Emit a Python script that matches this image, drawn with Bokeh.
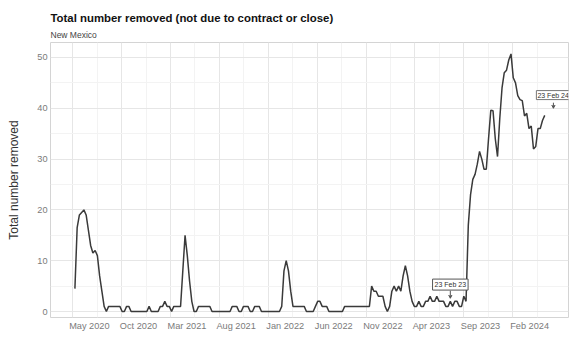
import pandas as pd
from bokeh.plotting import figure
from bokeh.models import (ColumnDataSource, FixedTicker, Title, Label, Arrow,
                          VeeHead, Range1d)
from bokeh.embed import file_html
from bokeh.resources import INLINE

# ---------------- data ----------------
start_date = "2020-05-08"
values = [
    4.5, 16.5, 19, 19.5, 20, 19, 16, 13, 11.5, 12, 11, 7, 4, 1,          # 0-13
    0, 1, 1, 1, 1, 1, 1, 0, 0, 1, 1,                                     # 14-24
    0, 0, 0, 0, 0, 0, 0, 0, 1, 0, 0, 0, 0,                               # 25-37
    1, 1, 2, 1, 1, 0, 1, 1, 1, 1,                                        # 38-47
    8, 15, 11, 6, 2, 0, 0,                                               # 48-54
    1, 1, 1, 1, 1, 1,                                                    # 55-60
    0, 0, 0, 0, 0, 0, 0, 0, 0,                                           # 61-69
    1, 1, 1, 0, 0, 1, 1, 1, 0, 0, 1, 1, 1,                               # 70-82
    0, 0, 0, 0, 0, 0, 0, 0, 0,                                           # 83-91
    1, 8, 10, 8, 4, 1, 1, 1, 1, 1, 1,                                    # 92-102
    0, 0, 0, 0, 1, 2, 2, 1, 1, 1,                                        # 103-112
    0, 0, 0, 0, 0, 0, 0,                                                 # 113-119
    1, 1, 1, 1, 1, 1, 1, 1, 1, 1, 1, 1,                                  # 120-131
    5, 4, 4, 3, 3, 3, 1, 0, 1, 4, 5, 4, 5, 4, 7, 9, 7, 4, 2,             # 132-150
    1, 1, 2, 1, 1, 2, 2, 3, 2, 2, 3, 2, 2, 2, 1, 1, 2, 1, 2, 2, 1, 1, 3, 2,  # 151-174
    17, 23, 26, 27, 29, 31.5, 30, 28, 28, 34, 39.6, 39.5, 34, 30.5, 38,  # 175-189
    44, 47, 47.5, 49.5, 50.7, 46, 45, 42.5, 41.7, 41.5, 38.5, 39, 36,    # 190-202
    36.5, 32, 32.5, 36, 36, 37.6, 38.6,                                  # 203-209
]
tick_dates = ["2020-05-01", "2020-10-01", "2021-03-01", "2021-08-01",
              "2022-01-01", "2022-06-01", "2022-11-01", "2023-04-01",
              "2023-09-01", "2024-02-01"]
tick_labels = ["May 2020", "Oct 2020", "Mar 2021", "Aug 2021", "Jan 2022",
               "Jun 2022", "Nov 2022", "Apr 2023", "Sep 2023", "Feb 2024"]
y_ticks = [0, 10, 20, 30, 40, 50]
ann_texts = ["23 Feb 23", "23 Feb 24"]

FONT = "Liberation Sans"

# ---------------- build ----------------
dates = pd.date_range(start_date, periods=len(values), freq="7D")
src = ColumnDataSource(dict(date=dates, n=values))

DAY = 86400000
def ms(d):
    return int(pd.Timestamp(d).value // 10**6)

grid_ticks = [ms(d) for d in tick_dates]
half = (grid_ticks[1] - grid_ticks[0]) // 2
grid_minor = [grid_ticks[0] - half] + \
             [(a + b) // 2 for a, b in zip(grid_ticks[:-1], grid_ticks[1:])] + \
             [grid_ticks[-1] + half]
label_shift = 52 * DAY   # labels sit left-aligned on their tick
label_ticks = [t + label_shift for t in grid_ticks]

p = figure(width=572, height=339, x_axis_type="datetime",
           output_backend="svg", toolbar_location=None,
           x_range=Range1d(ms("2020-02-22"), ms("2024-07-23")),
           y_range=Range1d(-1.18, 52.95),
           min_border_left=50, min_border_right=4,
           min_border_top=42, min_border_bottom=22)

p.background_fill_color = "white"
p.border_fill_color = "white"
p.outline_line_color = "#d4d4d4"

p.add_layout(Title(text="New Mexico", text_font=FONT,
                   text_font_size="8.5px", text_font_style="normal",
                   text_color="#444444", standoff=6), "above")
p.add_layout(Title(text="Total number removed (not due to contract or close)",
                   text_font=FONT, text_font_size="11.4px",
                   text_font_style="bold", text_color="#111111",
                   standoff=2), "above")

# x axis
p.xaxis.ticker = FixedTicker(ticks=label_ticks)
p.xaxis.major_label_overrides = {t: lab for t, lab in zip(label_ticks, tick_labels)}
p.xgrid.ticker = FixedTicker(ticks=grid_ticks, minor_ticks=grid_minor)
# y axis
p.yaxis.ticker = FixedTicker(ticks=y_ticks,
                             minor_ticks=[v + 5 for v in y_ticks[:-1]])
p.yaxis.axis_label = "Total number removed"
p.yaxis.axis_label_text_font = FONT
p.yaxis.axis_label_text_font_size = "12px"
p.yaxis.axis_label_text_font_style = "normal"
p.yaxis.axis_label_text_color = "#333333"
p.yaxis.axis_label_standoff = 13

for ax in (p.xaxis[0], p.yaxis[0]):
    ax.axis_line_color = None
    ax.major_tick_line_color = None
    ax.minor_tick_line_color = None
    ax.major_tick_out = 0
    ax.major_tick_in = 0
    ax.minor_tick_out = 0
    ax.minor_tick_in = 0
    ax.major_label_text_font = FONT
    ax.major_label_text_font_size = "9.2px"
    ax.major_label_text_color = "#7a7a7a"
    ax.major_label_standoff = 3

for g in (p.xgrid[0], p.ygrid[0]):
    g.grid_line_color = "#e6e6e6"
    g.grid_line_width = 1
    g.minor_grid_line_color = "#f3f3f3"
    g.minor_grid_line_width = 1

p.line("date", "n", source=src, line_color="#3a3a3a", line_width=1.5)

# annotations
i1 = 167
a1x = dates[i1]
p.add_layout(Label(x=a1x, y=5.3, text=ann_texts[0], text_font=FONT,
                   text_font_size="7px", text_align="center",
                   text_baseline="middle", text_color="#333333",
                   border_line_color="#555555", border_line_width=1,
                   background_fill_color="white", padding=2))
p.add_layout(Arrow(end=VeeHead(size=3, line_color="#555555", line_width=1),
                   x_start=a1x, y_start=4.1, x_end=a1x, y_end=values[i1] + 0.6,
                   line_color="#555555", line_width=1))

a2x = pd.Timestamp("2024-04-14")
a2ax = pd.Timestamp("2024-06-06")
p.add_layout(Label(x=a2x, y=42.6, text=ann_texts[1], text_font=FONT,
                   text_font_size="7px", text_align="left",
                   text_baseline="middle", text_color="#333333",
                   border_line_color="#777777", border_line_width=1,
                   background_fill_color="white", padding=1))
p.add_layout(Arrow(end=VeeHead(size=3, line_color="#555555", line_width=1),
                   x_start=a2ax, y_start=41.1, x_end=a2ax, y_end=40.0,
                   line_color="#555555", line_width=1))

open("out.html", "w").write(file_html(p, INLINE))
